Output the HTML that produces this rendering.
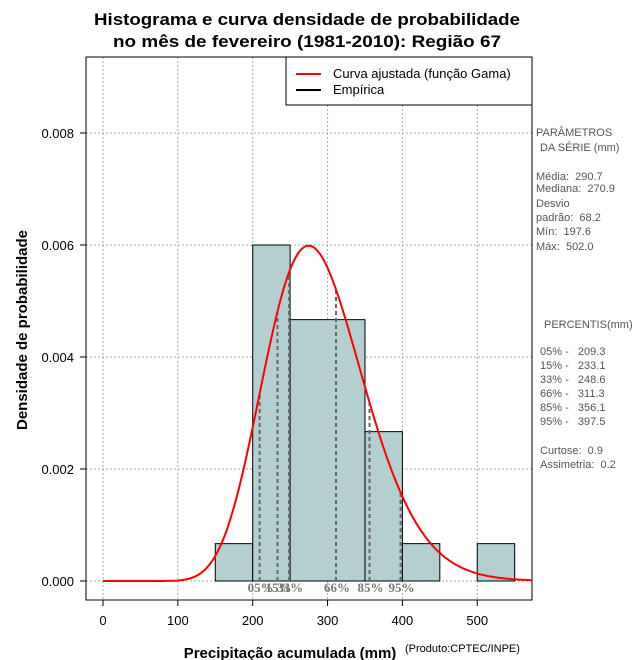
<!DOCTYPE html>
<html><head><meta charset="utf-8"><style>
body{margin:0;background:#fff}
svg{display:block;font-family:"Liberation Sans",sans-serif}
text{white-space:pre}
</style></head><body>
<svg id="c" width="640" height="660">
<text x="307" y="25" text-anchor="middle" font-size="17" font-weight="bold" textLength="426" lengthAdjust="spacingAndGlyphs">Histograma e curva densidade de probabilidade</text>
<text x="307" y="47" text-anchor="middle" font-size="17" font-weight="bold" textLength="388" lengthAdjust="spacingAndGlyphs">no mês de fevereiro (1981-2010): Região 67</text>
<g id="plot"></g>
<text x="290" y="658" text-anchor="middle" font-size="15" font-weight="bold">Precipitação acumulada (mm)</text>
<text x="405" y="652" font-size="11">(Produto:CPTEC/INPE)</text>
<text transform="translate(27,330) rotate(-90)" text-anchor="middle" font-size="15" font-weight="bold">Densidade de probabilidade</text>
<g font-size="11" fill="#555" xml:space="preserve">
<text x="536" y="136">PARÂMETROS</text>
<text x="540" y="151">DA SÉRIE (mm)</text>
<text x="536" y="180">Média:  290.7</text>
<text x="536" y="192">Mediana:  270.9</text>
<text x="536" y="207">Desvio</text>
<text x="536" y="221">padrão:  68.2</text>
<text x="536" y="235">Mín:  197.6</text>
<text x="536" y="250">Máx:  502.0</text>
<text x="544" y="328">PERCENTIS(mm)</text>
<text x="540" y="355">05% -   209.3</text>
<text x="540" y="369">15% -   233.1</text>
<text x="540" y="383">33% -   248.6</text>
<text x="540" y="397">66% -   311.3</text>
<text x="540" y="411">85% -   356.1</text>
<text x="540" y="425">95% -   397.5</text>
<text x="540" y="454">Curtose:  0.9</text>
<text x="540" y="468">Assimetria:  0.2</text>
</g>
</svg>
<script>
const binStarts=[150,200,250,350,400,450,500];
const binEnds=[200,250,350,400,450,500,550];
const binDensity=[0.000667,0.006,0.004667,0.002667,0.000667,0,0.000667];
const xTicks=[0,100,200,300,400,500];
const yTicks=[0,0.002,0.004,0.006,0.008];
const yTickLabels=["0.000","0.002","0.004","0.006","0.008"];
const pctLabels=["05%","15%","33%","66%","85%","95%"];
const pctValues=[209.3,233.1,248.6,311.3,356.1,397.5];
const gammaMean=290.7;
const gammaSd=68.2;

const NS="http://www.w3.org/2000/svg";
const L=86,R=532,T=57,B=600;
const X=v=>103+v*0.7485;
const Y=v=>581-v*56000;
const g=document.getElementById('plot');
function mk(t,a,p){const e=document.createElementNS(NS,t);for(const k in a)e.setAttribute(k,a[k]);(p||g).appendChild(e);return e;}
function lgamma(z){const c=[76.18009172947146,-86.50532032941677,24.01409824083091,-1.231739572450155,0.1208650973866179e-2,-0.5395239384953e-5];let x=z,y=z,t=x+5.5;t-=(x+0.5)*Math.log(t);let s=1.000000000190015;for(let j=0;j<6;j++)s+=c[j]/++y;return -t+Math.log(2.5066282746310005*s/x);}
const k=(gammaMean/gammaSd)**2, th=gammaSd*gammaSd/gammaMean;
const pdf=x=>x<=0?0:Math.exp((k-1)*Math.log(x)-x/th-lgamma(k)-k*Math.log(th));

// grid
xTicks.forEach(v=>{const l=mk('line',{x1:X(v),x2:X(v),y1:T,y2:B,stroke:'#aaa','stroke-dasharray':'2,2'});});
yTicks.forEach(v=>{const l=mk('line',{x1:L,x2:R,y1:Y(v),y2:Y(v),stroke:'#aaa','stroke-dasharray':'2,2'});});
// bars
binStarts.forEach((s,i)=>{
  if(binDensity[i]<=0)return;
  const r=mk('rect',{x:X(s),y:Y(binDensity[i]),width:X(binEnds[i])-X(s),height:Y(0)-Y(binDensity[i]),fill:'#b4cfcf',stroke:'#000','stroke-width':1});
  
  
});
// percentile lines
pctValues.forEach((v,i)=>{
  const l=mk('line',{x1:X(v),x2:X(v),y1:Y(0),y2:Y(pdf(v)),stroke:'#666','stroke-width':2,'stroke-dasharray':'4,3'});
  
  
  const t=mk('text',{x:X(v)-12,y:592,'font-size':13,'font-weight':'bold','font-family':'Liberation Serif,serif',fill:'#777'});
  t.textContent=pctLabels[i];
  
  
});
// curve
let d='';for(let x=0;x<=572;x+=2){d+=(x?'L':'M')+X(x).toFixed(1)+','+Y(pdf(x)).toFixed(1);}
const c=mk('path',{d:d,fill:'none',stroke:'#f00','stroke-width':2});


// frame
const f=mk('rect',{x:L,y:T,width:R-L,height:B-T,fill:'none',stroke:'#000'});


// axes
xTicks.forEach(v=>{
  mk('line',{x1:X(v),x2:X(v),y1:B,y2:B+6,stroke:'#000'});
  const t=mk('text',{x:X(v),y:B+25,'text-anchor':'middle','font-size':13});
  t.textContent=v;
  
  
});
yTicks.forEach((v,i)=>{
  mk('line',{x1:L-6,x2:L,y1:Y(v),y2:Y(v),stroke:'#000'});
  const t=mk('text',{x:L-12,y:Y(v)+5,'text-anchor':'end','font-size':13});
  t.textContent=yTickLabels[i];
  
  
});
// legend
const lg=mk('g',{});


mk('rect',{x:286,y:57,width:246,height:48,fill:'#fff',stroke:'#000'},lg);
mk('line',{x1:296,x2:321,y1:74,y2:74,stroke:'#f00','stroke-width':2},lg);
mk('line',{x1:296,x2:321,y1:90,y2:90,stroke:'#000','stroke-width':2},lg);
const t1=mk('text',{x:333,y:78,'font-size':13},lg);t1.textContent='Curva ajustada (função Gama)';


const t2=mk('text',{x:333,y:94,'font-size':13},lg);t2.textContent='Empírica';


</script>
</body></html>
